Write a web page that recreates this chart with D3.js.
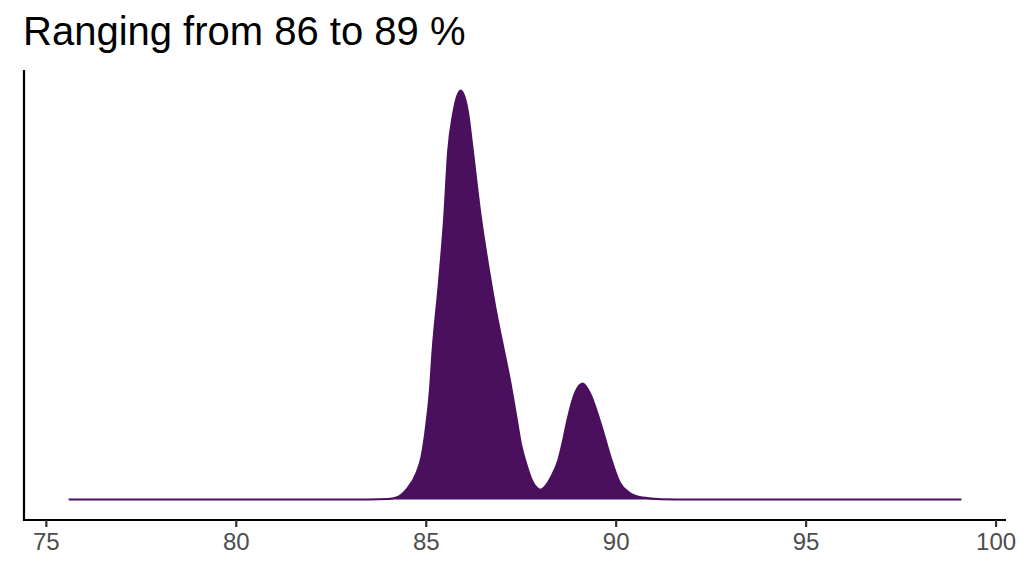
<!DOCTYPE html>
<html>
<head>
<meta charset="utf-8">
<script src="https://cdn.jsdelivr.net/npm/d3@7/dist/d3.min.js"></script>
<style>
  html, body { margin: 0; padding: 0; background: #fff; }
  svg { display: block; font-family: "Liberation Sans", Arial, sans-serif; }
</style>
</head>
<body>
<svg id="chart" width="1024" height="576"></svg>
<script>
// ---- data ----
const titleText = "Ranging from 86 to 89 %";
const xValues = [75.6, 80.0, 83.5, 84.0, 84.23, 84.49, 84.76, 84.89, 85.02, 85.11, 85.18, 85.345,
  85.485, 85.59, 85.72, 85.92, 86.12, 86.23, 86.44, 86.71, 86.865, 87.04, 87.215, 87.37, 87.52, 87.64,
  87.79, 87.92, 88.02, 88.14, 88.31, 88.49, 88.62, 88.73, 88.93, 89.13, 89.32, 89.63, 89.89, 90.11,
  90.37, 90.72, 91.2, 92.0, 99.1];
const densityValues = [0, 0, 0.0002, 0.0008, 0.0028, 0.0134, 0.037, 0.059, 0.105, 0.150, 0.204, 0.296,
  0.386, 0.477, 0.528, 0.560, 0.528, 0.482, 0.391, 0.300, 0.254, 0.209, 0.164, 0.118, 0.073, 0.050,
  0.027, 0.0165, 0.0134, 0.018, 0.032, 0.054, 0.082, 0.109, 0.146, 0.159, 0.146, 0.100, 0.054, 0.023,
  0.009, 0.0028, 0.0005, 0, 0];
const xTicks = [75, 80, 85, 90, 95, 100];

const fillColor = "#4a105e";
const svg = d3.select("#chart");
const panel = { left: 24, right: 1006, top: 70, bottom: 520 };

const data = xValues.map((x, i) => ({ x, y: densityValues[i] }));

// ggplot-like 5% expansion
const [xmin, xmax] = d3.extent(xValues);
const xr = xmax - xmin;
const x = d3.scaleLinear().domain([xmin - 0.05 * xr, xmax + 0.05 * xr]).range([panel.left, panel.right]);
const ymax = d3.max(densityValues);
const y = d3.scaleLinear().domain([-0.05 * ymax, 1.05 * ymax]).range([panel.bottom, panel.top]);

const area = d3.area().x(d => x(d.x)).y0(y(0)).y1(d => y(d.y)).curve(d3.curveMonotoneX);
const line = d3.line().x(d => x(d.x)).y(d => y(d.y)).curve(d3.curveMonotoneX);

svg.append("path").datum(data).attr("d", area).attr("fill", fillColor);
svg.append("path").datum(data).attr("d", line).attr("fill", "none")
  .attr("stroke", fillColor).attr("stroke-width", 2).attr("stroke-linejoin", "round");

// x axis
const xAxis = d3.axisBottom(x).tickValues(xTicks).tickSize(7).tickPadding(6).tickFormat(d3.format("d"));
const gx = svg.append("g").attr("transform", `translate(0,${panel.bottom})`).call(xAxis);
gx.select(".domain").attr("stroke", "#000").attr("stroke-width", 2.2)
  .attr("d", `M${panel.left},0H${panel.right}`);
gx.selectAll(".tick line").attr("stroke", "#333").attr("stroke-width", 2.2);
gx.selectAll(".tick text").attr("fill", "#4d4d4d").attr("font-size", 24)
  .attr("font-family", "Liberation Sans, Arial, sans-serif");

// y axis line (no ticks)
svg.append("line").attr("x1", panel.left).attr("x2", panel.left)
  .attr("y1", panel.top).attr("y2", panel.bottom + 1.1)
  .attr("stroke", "#000").attr("stroke-width", 2.2);

// title
svg.append("text").attr("x", 23).attr("y", 45).attr("font-size", 40).attr("fill", "#000")
  .text(titleText);
</script>
</body>
</html>
